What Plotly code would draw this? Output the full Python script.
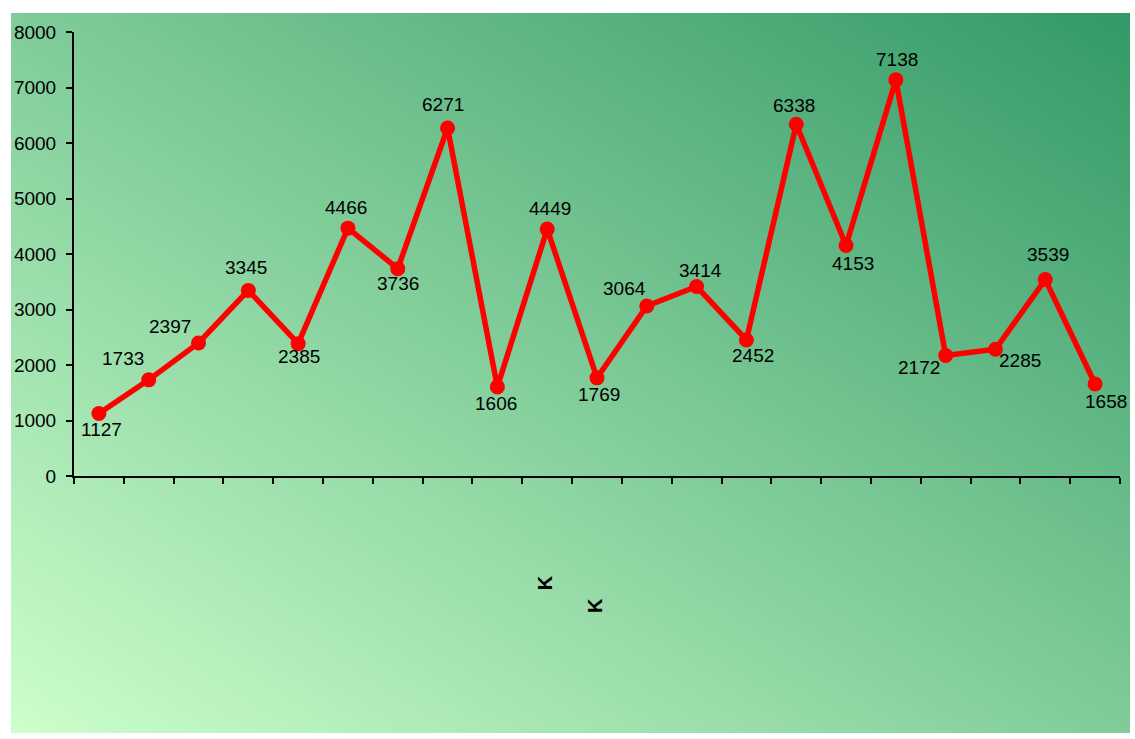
import plotly.graph_objects as go

# ---- data ----
values = [1127, 1733, 2397, 3345, 2385, 4466, 3736, 6271, 1606, 4449, 1769,
          3064, 3414, 2452, 6338, 4153, 7138, 2172, 2285, 3539, 1658]
positions = list(range(len(values)))
label_texts = [str(v) for v in values]
y_ticks = [0, 1000, 2000, 3000, 4000, 5000, 6000, 7000, 8000]
cat_marks = ["K", "K"]          # the only visible category labels
cat_mark_pos = [9, 10]

# label offsets (pixels, x right / y up)
label_dx = [3, -26, -29, -2, 1, -2, 0, -5, -1, 3, 2, -22, 4, 7, -2, 7, 1, -27, 25, 3, 11]
label_dy = [-16, 21, 16, 23, -13, 21, -15, 23, -17, 21, -17, 17, 16, -16, 19, -18, 20, -12, -11, 25, -17]

# background gradient corners
bg_corners = [[0, 1], [1, 2]]

fig = go.Figure()

fig.add_trace(go.Heatmap(
    x=[0, 1], y=[0, 1], z=bg_corners, zsmooth="best",
    colorscale=[[0, "#CCFFCC"], [1, "#339966"]], showscale=False,
    hoverinfo="skip", xaxis="x", yaxis="y"))

fig.add_trace(go.Scatter(
    x=positions, y=values, mode="lines+markers",
    line=dict(color="#FF0000", width=5.5),
    marker=dict(color="#FF0000", size=15),
    xaxis="x2", yaxis="y2", hoverinfo="y"))

FONT = "Liberation Sans, Arial, sans-serif"
font_main = dict(family=FONT, size=19, color="black")

annotations = []
for xv, yv, t, dx, dy in zip(positions, values, label_texts, label_dx, label_dy):
    annotations.append(dict(x=xv, y=yv, xref="x2", yref="y2", text=t,
                            showarrow=False, xanchor="center", yanchor="middle",
                            xshift=dx, yshift=dy, font=font_main))
for t, p, yp in zip(cat_marks, cat_mark_pos, [0.2083, 0.1778]):
    annotations.append(dict(x=p, y=yp, xref="x2", yref="paper", text="<b>" + t + "</b>",
                            showarrow=False, textangle=-90, xanchor="center",
                            yanchor="middle", xshift=-2,
                            font=dict(family=FONT, size=20, color="black")))

fig.update_layout(
    width=1135, height=739,
    margin=dict(l=11, r=5, t=13, b=6, autoexpand=False),
    paper_bgcolor="white", plot_bgcolor="rgba(0,0,0,0)",
    showlegend=False,
    xaxis=dict(domain=[0, 1], range=[0, 1], visible=False, fixedrange=True),
    yaxis=dict(domain=[0, 1], range=[0, 1], visible=False, fixedrange=True),
    xaxis2=dict(domain=[0.0563, 0.99106], range=[-0.5, 20.5], anchor="y2",
                showgrid=False, zeroline=False, showline=True, linecolor="black",
                linewidth=2, ticks="outside", ticklen=6, tickwidth=2,
                tickcolor="black", tickvals=[i - 0.5 for i in range(len(values) + 1)],
                showticklabels=False),
    yaxis2=dict(domain=[0.3569, 0.9736], range=[0, 8000], anchor="x2",
                showgrid=False, zeroline=False, showline=True, linecolor="black",
                linewidth=2, ticks="outside", ticklen=6, tickwidth=2,
                tickcolor="black", tickvals=y_ticks, ticktext=[str(v) for v in y_ticks],
                tickfont=font_main, ticklabelstandoff=6),
    annotations=annotations,
)

fig.write_html("out.html", config={"displayModeBar": False},
               post_script="document.body.style.margin='0';document.body.style.overflow='hidden';")
